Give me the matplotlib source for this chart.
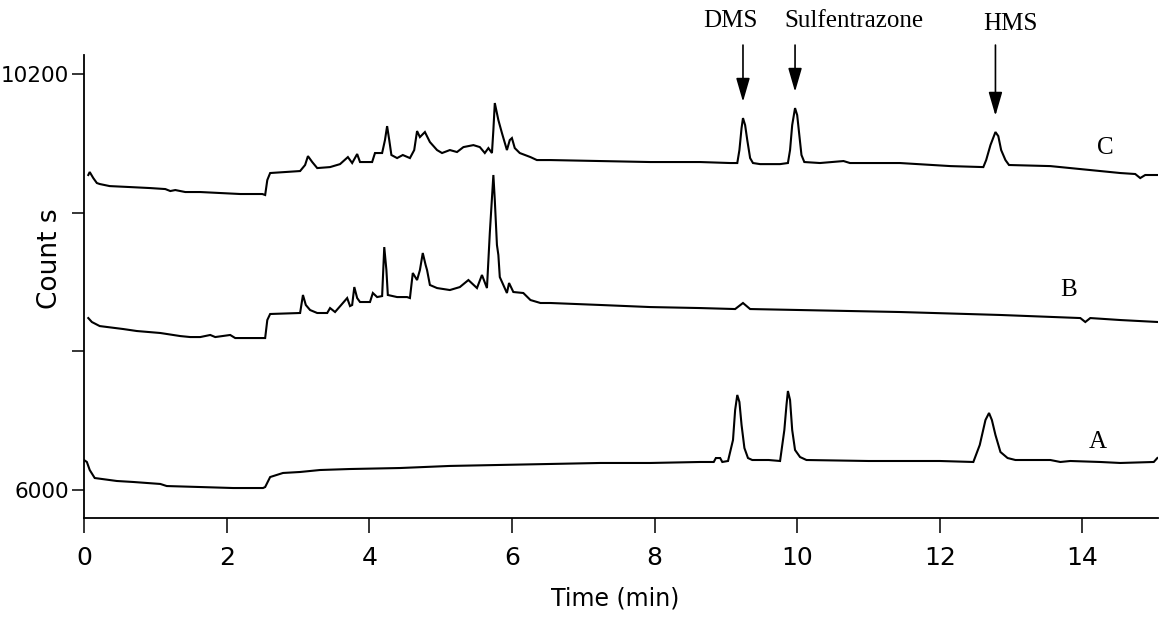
import matplotlib
matplotlib.use('Agg')
import matplotlib.pyplot as plt
import matplotlib.transforms as mtransforms
import numpy as np

# ---- data (time in min, counts) ----
time_A = [0.00, 0.04, 0.08, 0.15, 0.46, 0.69, 1.07, 1.16, 1.63, 2.09, 2.51, 2.54,
          2.61, 2.79, 3.03, 3.31, 3.73, 4.43, 5.13, 5.83, 6.54, 7.24, 7.94, 8.64,
          8.83, 8.86, 8.92, 8.95, 9.03,
          9.10, 9.13, 9.16, 9.19, 9.22, 9.26, 9.31, 9.37, 9.60,
          9.76, 9.82, 9.85, 9.87, 9.90, 9.93, 9.97, 10.04, 10.13,
          11.0, 12.0, 12.47,
          12.56, 12.64, 12.69, 12.73, 12.78, 12.85, 12.95, 13.06,
          13.55, 13.69, 13.83, 14.25, 14.53, 15.0, 15.05]
counts_A = [6303, 6283, 6202, 6121, 6091, 6081, 6061, 6040, 6030, 6020, 6020, 6030,
            6131, 6172, 6182, 6202, 6212, 6222, 6243, 6253, 6263, 6273, 6273, 6283,
            6283, 6323, 6323, 6283, 6293,
            6505, 6808, 6960, 6889, 6657, 6424, 6323, 6303, 6303,
            6293, 6606, 6859, 7000, 6909, 6606, 6404, 6333, 6303,
            6293, 6293, 6283,
            6455, 6707, 6778, 6707, 6556, 6384, 6323, 6303,
            6303, 6283, 6293, 6283, 6273, 6283, 6323]

time_B = [0.06, 0.11, 0.22, 0.55, 0.74, 1.07, 1.35, 1.49, 1.63, 1.77, 1.84, 2.05,
          2.12, 2.50, 2.54, 2.57, 2.61, 3.03, 3.07, 3.11, 3.17, 3.27, 3.41, 3.45,
          3.52, 3.63, 3.69, 3.73, 3.76, 3.79, 3.83, 3.87, 4.01, 4.05, 4.11, 4.18,
          4.21, 4.24, 4.26, 4.39, 4.53, 4.57, 4.61, 4.67, 4.71, 4.75, 4.79, 4.81,
          4.85, 4.95, 5.13, 5.27, 5.39, 5.51, 5.58, 5.65, 5.69, 5.74, 5.76, 5.79,
          5.81, 5.83, 5.93, 5.96, 6.02, 6.16, 6.26, 6.40, 6.54, 7.24, 7.94, 8.64,
          9.13, 9.24, 9.34, 10.04, 11.44, 12.85, 13.97, 14.04, 14.11, 14.53, 15.06]
counts_B = [7737, 7697, 7656, 7626, 7606, 7586, 7555, 7545, 7545, 7566, 7545, 7566,
            7535, 7535, 7535, 7717, 7778, 7788, 7970, 7869, 7818, 7788, 7788, 7838,
            7798, 7889, 7939, 7858, 7869, 8050, 7939, 7899, 7899, 7990, 7949, 7959,
            8454, 8222, 7970, 7949, 7949, 7939, 8192, 8121, 8222, 8394, 8273, 8222,
            8071, 8040, 8020, 8050, 8121, 8040, 8172, 8040, 8596, 9182, 8929, 8475,
            8374, 8151, 7990, 8091, 8000, 7990, 7919, 7889, 7889, 7869, 7848, 7838,
            7828, 7889, 7828, 7818, 7798, 7768, 7737, 7697, 7737, 7717, 7697]

time_C = [0.06, 0.08, 0.13, 0.18, 0.22, 0.36, 0.65, 0.93, 1.14, 1.21, 1.28, 1.35,
          1.42, 1.63, 1.91, 2.19, 2.50, 2.54, 2.57, 2.61, 2.82, 3.03, 3.10, 3.14,
          3.20, 3.27, 3.45, 3.59, 3.70, 3.76, 3.83, 3.87, 4.04, 4.08, 4.18, 4.22,
          4.25, 4.28, 4.31, 4.39, 4.47, 4.57, 4.63, 4.67, 4.71, 4.78, 4.85, 4.95,
          5.02, 5.13, 5.23, 5.32, 5.46, 5.55, 5.62, 5.67, 5.72, 5.74, 5.76, 5.81,
          5.86, 5.93, 5.97, 6.00, 6.04, 6.11, 6.26, 6.35, 6.54, 7.24, 7.94, 8.64,
          9.06, 9.16, 9.19, 9.22, 9.24, 9.27, 9.30, 9.34, 9.38, 9.48, 9.76, 9.87,
          9.90, 9.93, 9.97, 10.00, 10.03, 10.06, 10.10, 10.32, 10.65, 10.74, 11.44,
          12.15, 12.61, 12.65, 12.71, 12.78, 12.82, 12.86, 12.92, 12.97, 13.55,
          14.11, 14.53, 14.74, 14.81, 14.88, 15.06]
counts_C = [9182, 9212, 9151, 9101, 9091, 9070, 9060, 9050, 9040, 9020, 9030, 9020,
            9010, 9010, 9000, 8990, 8990, 8980, 9131, 9202, 9212, 9222, 9283, 9373,
            9313, 9252, 9262, 9292, 9363, 9303, 9394, 9313, 9313, 9404, 9404, 9535,
            9676, 9535, 9384, 9353, 9384, 9353, 9434, 9626, 9565, 9616, 9515, 9434,
            9404, 9434, 9414, 9464, 9484, 9464, 9404, 9454, 9404, 9636, 9909, 9737,
            9606, 9434, 9535, 9555, 9454, 9404, 9363, 9333, 9333, 9323, 9313, 9313,
            9303, 9303, 9434, 9656, 9757, 9686, 9535, 9353, 9303, 9292, 9292, 9303,
            9434, 9686, 9858, 9787, 9585, 9384, 9313, 9303, 9323, 9303, 9303,
            9272, 9262, 9333, 9484, 9616, 9575, 9434, 9333, 9283, 9272,
            9232, 9202, 9192, 9151, 9182, 9182]

trace_names = ['A', 'B', 'C']
peak_labels = ['DMS', 'Sulfentrazone', 'HMS']
peak_times = [9.24, 9.97, 12.78]
x_ticks = [0, 2, 4, 6, 8, 10, 12, 14]
y_ticks = [6000, 7400, 8800, 10200]
y_tick_labels = ['6000', '', '', '10200']

# ---- figure ----
fig = plt.figure(figsize=(11.62, 6.26), dpi=100)
ax = fig.add_axes([0.0723, 0.1725, 0.9243, 0.7396])

for t, c in [(time_A, counts_A), (time_B, counts_B), (time_C, counts_C)]:
    ax.plot(t, c, color='black', lw=1.5, solid_joinstyle='miter')

ax.set_xlim(0, 15.06)
ax.set_ylim(5717, 10394)
for s in ['top', 'right']:
    ax.spines[s].set_visible(False)
for s in ['left', 'bottom']:
    ax.spines[s].set_linewidth(1.3)

ax.set_xticks(x_ticks)
ax.set_xticklabels([str(v) for v in x_ticks])
ax.set_yticks(y_ticks)
ax.set_yticklabels(y_tick_labels)
ax.tick_params(axis='x', direction='out', length=11, width=1.1, pad=9,
               labelsize=18)
ax.tick_params(axis='y', direction='out', length=9, width=1.1, pad=1.5,
               labelsize=15.5)

ax.set_xlabel('Time (min)', fontsize=17)
ax.xaxis.set_label_coords(0.495, -0.148)
ax.set_ylabel('Count s', fontsize=19)
ax.yaxis.set_label_coords(-0.02, 0.56)

# peak arrows and labels
text_x = [9.07, 10.79, 12.99]
text_y = [0.966, 0.966, 0.962]
blend = mtransforms.blended_transform_factory(ax.transData, fig.transFigure)
for lab, pt, tx, ty in zip(peak_labels, peak_times, text_x, text_y):
    pc = np.interp(pt, time_C, counts_C)
    ax.annotate('', xy=(pt, pc + 165), xycoords='data',
                xytext=(pt, 0.928), textcoords=('data', 'figure fraction'),
                arrowprops=dict(arrowstyle='-|>,head_length=1.45,head_width=0.42',
                                color='black', lw=1.2, shrinkA=0, shrinkB=0),
                annotation_clip=False)
    ax.text(tx, ty, lab, transform=blend, ha='center', va='center',
            fontsize=18, family='Liberation Serif')

# trace labels
label_pos = {'A': (14.22, 6485), 'B': (13.80, 8019), 'C': (14.32, 9453)}
for name in trace_names:
    x, y = label_pos[name]
    ax.text(x, y, name, ha='center', va='center', fontsize=18,
            family='Liberation Serif')

fig.savefig('out.png', dpi=100)
